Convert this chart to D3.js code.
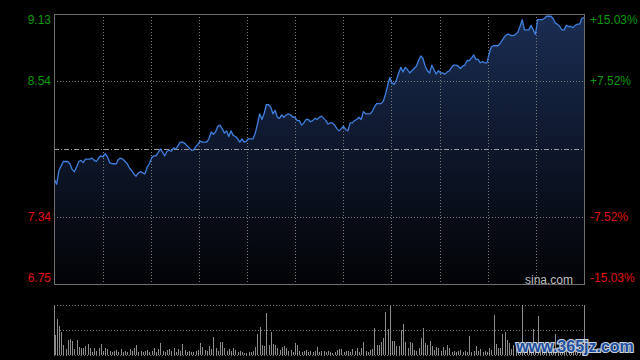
<!DOCTYPE html>
<html><head><meta charset="utf-8">
<script src="https://cdn.jsdelivr.net/npm/d3@7"></script>
<style>html,body{margin:0;padding:0;background:#000;}svg{display:block;}</style>
</head><body>
<script>
const priceTicks = [9.13, 8.54, 7.94, 7.34, 6.75];
const leftLabels = ["9.13", "8.54", "", "7.34", "6.75"];
const rightLabels = ["+15.03%", "+7.52%", "", "-7.52%", "-15.03%"];
const prevClose = 7.94;
const prices = [7.67,7.63,7.75,7.79,7.83,7.83,7.83,7.81,7.76,7.74,
7.78,7.83,7.84,7.82,7.85,7.85,7.85,7.86,7.84,7.83,
7.86,7.88,7.87,7.90,7.87,7.82,7.81,7.81,7.81,7.85,
7.86,7.85,7.83,7.81,7.77,7.75,7.72,7.70,7.73,7.74,
7.73,7.72,7.78,7.81,7.86,7.88,7.88,7.91,7.94,7.91,
7.88,7.92,7.93,7.92,7.95,7.94,7.97,8.00,8.00,7.99,
7.97,7.95,7.93,7.93,7.96,7.98,8.01,8.00,8.00,8.00,
8.03,8.09,8.07,8.09,8.14,8.15,8.12,8.08,8.10,8.05,
8.10,8.06,8.05,8.03,8.00,8.03,8.00,8.01,8.03,8.03,
8.03,8.08,8.16,8.25,8.20,8.25,8.33,8.33,8.31,8.25,
8.28,8.22,8.21,8.24,8.22,8.24,8.25,8.24,8.22,8.22,
8.19,8.19,8.15,8.17,8.20,8.20,8.18,8.19,8.21,8.20,
8.22,8.23,8.21,8.19,8.16,8.17,8.17,8.15,8.12,8.10,
8.12,8.14,8.11,8.10,8.17,8.17,8.19,8.20,8.22,8.20,
8.27,8.25,8.25,8.25,8.27,8.31,8.34,8.34,8.34,8.36,
8.42,8.50,8.57,8.52,8.51,8.55,8.61,8.66,8.62,8.66,
8.64,8.61,8.63,8.65,8.67,8.72,8.76,8.74,8.67,8.63,
8.61,8.68,8.64,8.60,8.63,8.61,8.61,8.60,8.62,8.63,
8.66,8.68,8.68,8.67,8.65,8.67,8.68,8.72,8.72,8.74,
8.77,8.73,8.73,8.70,8.71,8.70,8.70,8.78,8.84,8.85,
8.85,8.85,8.87,8.90,8.93,8.95,8.95,8.94,8.94,8.95,
8.97,9.02,9.08,8.99,8.99,8.99,9.03,8.99,8.95,9.08,
9.08,9.08,9.09,9.11,9.11,9.11,9.09,9.05,9.04,9.02,
8.99,8.99,9.03,9.02,9.02,9.01,9.03,9.04,9.04,9.09,
9.10];
const volumes = [20,36,29,23,10,6,15,16,14,6,
15,8,7,7,9,11,7,3,7,4,
7,11,4,7,6,4,3,4,5,3,
6,3,4,3,6,4,7,10,3,4,
3,4,5,3,4,7,3,6,12,4,
3,5,6,4,7,3,6,4,11,5,
3,4,3,3,4,5,12,8,5,4,
9,6,18,7,4,13,13,7,4,6,
4,7,5,3,4,3,2,2,3,3,
4,8,21,28,10,9,42,10,23,11,
10,7,5,8,9,7,4,5,3,12,
10,4,3,4,5,3,4,3,4,8,
3,4,4,3,4,3,2,3,5,6,
6,3,4,4,3,6,4,7,3,7,
13,4,3,5,6,27,10,10,13,17,
43,26,49,14,14,9,9,25,31,13,
7,13,12,5,4,7,17,27,12,10,
14,9,5,8,7,4,8,5,10,7,
3,4,3,4,5,3,4,3,19,3,
4,9,4,6,3,4,3,7,5,40,
11,7,7,21,23,15,12,6,10,8,
5,6,50,5,7,6,5,26,6,39,
5,10,6,5,10,4,6,21,5,4,
7,4,5,5,4,5,7,4,5,5,
6];
const totalMinutes = 240;
const divisions = 11;

const W = 640, H = 360;
const L = 54, R = 584, T = 14, B = 284;
const VT = 305, VB = 355;

const svg = d3.select("body").append("svg").attr("width", W).attr("height", H)
  .style("background", "#000");

const x = d3.scaleLinear().domain([0, totalMinutes]).range([L + 0.5, R]);
const y = d3.scaleLinear().domain([6.75, 9.13]).range([B, T]);
const yv = d3.scaleLinear().domain([0, 50]).range([VB, VT]);

const defs = svg.append("defs");
const grad = defs.append("linearGradient").attr("id", "fillg")
  .attr("gradientUnits", "userSpaceOnUse").attr("x1", 0).attr("y1", T).attr("x2", 0).attr("y2", B);
grad.append("stop").attr("offset", 0).attr("stop-color", "#1a2d52");
grad.append("stop").attr("offset", 0.5).attr("stop-color", "#0e172b");
grad.append("stop").attr("offset", 1).attr("stop-color", "#020305");

// area
const area = d3.area().x((d, i) => x(i)).y0(B).y1(d => y(d));
svg.append("path").datum(prices).attr("d", area).attr("fill", "url(#fillg)");

// vertical grid
const gridX = d3.range(1, divisions).map(k => totalMinutes * k / divisions);
svg.append("g").selectAll("line").data(gridX).join("line")
  .attr("x1", d => Math.round(x(d)) + 0.5).attr("x2", d => Math.round(x(d)) + 0.5)
  .attr("y1", T).attr("y2", B)
  .attr("stroke", "#7a7a7a").attr("stroke-width", 1).attr("stroke-dasharray", "1,2");

// horizontal grid
svg.append("g").selectAll("line").data(priceTicks.filter(v => v !== 9.13 && v !== 6.75)).join("line")
  .attr("x1", L).attr("x2", R)
  .attr("y1", d => Math.round(y(d)) + 0.5).attr("y2", d => Math.round(y(d)) + 0.5)
  .attr("stroke", d => d === prevClose ? "#9a9a9a" : "#7a7a7a")
  .attr("stroke-width", 1)
  .attr("stroke-dasharray", d => d === prevClose ? "5,2,1,2" : "1,2");

// price line
const line = d3.line().x((d, i) => x(i)).y(d => y(d));
svg.append("path").datum(prices).attr("d", line)
  .attr("fill", "none").attr("stroke", "#3f7fe0").attr("stroke-width", 1.3)
  .attr("stroke-linejoin", "round");

// frame
svg.append("rect").attr("x", L + 0.5).attr("y", T + 0.5).attr("width", R - L).attr("height", B - T)
  .attr("fill", "none").attr("stroke", "#6e6e6e").attr("stroke-width", 1);

// labels
const lab = svg.append("g").style("font-family", "'Liberation Sans', Arial, sans-serif").style("font-size", "12px");
priceTicks.forEach((v, i) => {
  let ty = Math.max(20, Math.min(278, y(v)));
  const col = v > prevClose ? "#0a9a0a" : "#e01010";
  if (leftLabels[i]) lab.append("text").attr("x", 51).attr("y", ty).attr("dy", "0.36em")
    .attr("text-anchor", "end").attr("fill", col).text(leftLabels[i]);
  if (rightLabels[i]) lab.append("text").attr("x", 590).attr("y", ty).attr("dy", "0.36em")
    .attr("text-anchor", "start").attr("fill", col).text(rightLabels[i]);
});

svg.append("text").attr("x", 573).attr("y", 283.5).attr("text-anchor", "end")
  .style("font-family", "'Liberation Sans', Arial, sans-serif").style("font-size", "12px")
  .attr("fill", "#bdbdbd").text("sina.com");

// volume panel
svg.append("g").selectAll("line").data([VT, (VT + VB) / 2, VB]).join("line")
  .attr("x1", L).attr("x2", R).attr("y1", d => Math.round(d) + 0.5).attr("y2", d => Math.round(d) + 0.5)
  .attr("stroke", "#7a7a7a").attr("stroke-dasharray", "1,2");
svg.append("line").attr("x1", L + 0.5).attr("x2", L + 0.5).attr("y1", VT).attr("y2", VB + 1).attr("stroke", "#8a8a8a");
svg.append("line").attr("x1", R + 0.5).attr("x2", R + 0.5).attr("y1", VT).attr("y2", VB + 1).attr("stroke", "#8a8a8a");

svg.append("g").selectAll("rect").data(volumes).join("rect")
  .attr("x", (d, i) => Math.round(x(i)))
  .attr("width", 1)
  .attr("y", d => yv(d))
  .attr("height", d => VB - yv(d))
  .attr("fill", "#8c8c8c");

// watermark
svg.append("text").attr("x", 575).attr("y", 352).attr("text-anchor", "middle")
  .style("font-family", "'Liberation Sans', Arial, sans-serif").style("font-size", "16px")
  .style("font-weight", "bold")
  .attr("fill", "#1d4f9e").attr("stroke", "#c8d0dc").attr("stroke-width", 2.2)
  .attr("paint-order", "stroke").text("www.365jz.com");
</script>
</body></html>
